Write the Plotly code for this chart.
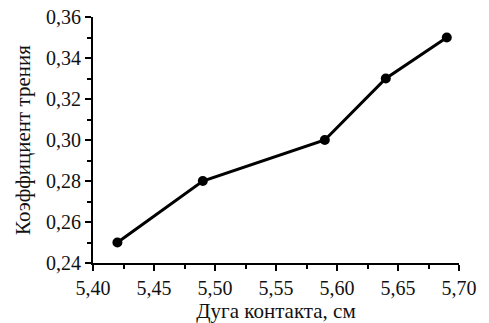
import plotly.graph_objects as go

arc_cm = [5.42, 5.49, 5.59, 5.64, 5.69]
friction = [0.25, 0.28, 0.30, 0.33, 0.35]
x_title = "Дуга контакта, см"
y_title = "Коэффициент трения"

fig = go.Figure()
fig.add_trace(go.Scatter(
    x=arc_cm, y=friction, mode="lines+markers",
    line=dict(color="black", width=3),
    marker=dict(color="black", size=10),
    showlegend=False,
))

tick_font = dict(family="serif", size=20, color="#111")
title_font = dict(family="serif", size=21, color="#111")
fig.update_layout(
    width=489, height=323,
    margin=dict(l=93, r=30, t=17, b=60),
    paper_bgcolor="white", plot_bgcolor="white",
    separators=", ",
    font=tick_font,
    xaxis=dict(
        range=[5.40, 5.70], dtick=0.05, tick0=5.40, tickformat=".2f",
        automargin=False, tickfont=tick_font,
        showgrid=False, zeroline=False,
        showline=True, linecolor="black", linewidth=2,
        ticks="outside", ticklen=6, tickwidth=2, tickcolor="black",
        minor=dict(ticks="outside", ticklen=4, tickwidth=1.5, tickcolor="black", dtick=0.025, tick0=5.40),
        title=dict(text=x_title, standoff=2, font=title_font),
    ),
    yaxis=dict(
        range=[0.24, 0.36], dtick=0.02, tick0=0.24, tickformat=".2f",
        automargin=False, tickfont=tick_font,
        showgrid=False, zeroline=False,
        showline=True, linecolor="black", linewidth=2,
        ticks="outside", ticklen=6, tickwidth=2, tickcolor="black",
        minor=dict(ticks="outside", ticklen=4, tickwidth=1.5, tickcolor="black", dtick=0.01, tick0=0.24),
        title=dict(text=y_title, standoff=10, font=title_font),
    ),
)
fig.write_html(
    "out.html",
    config={"displayModeBar": False},
    post_script="document.body.style.margin='0';document.body.style.overflow='hidden';",
)
